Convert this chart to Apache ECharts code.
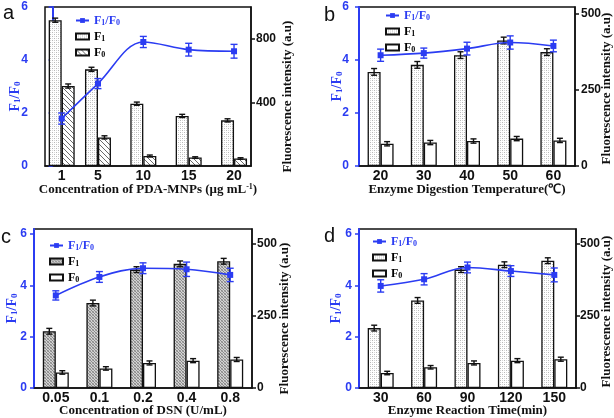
<!DOCTYPE html>
<html><head><meta charset="utf-8">
<script src="https://cdn.jsdelivr.net/npm/echarts@6/dist/echarts.min.js"></script>
<style>html,body{margin:0;padding:0;background:#fff}#c{width:614px;height:418px}</style>
</head><body><div id="c"></div>
<script>
// ---------- Panel a ----------
const xA = [1, 5, 10, 15, 20];
const ratioA = [1.79, 3.11, 4.68, 4.39, 4.33];
const ratioErrA = [0.21, 0.19, 0.21, 0.24, 0.26];
const f1A = [917, 608, 392, 315, 287];
const f1ErrA = [13, 13, 10, 10, 10];
const f0A = [503, 180, 63, 53, 47];
const f0ErrA = [13, 10, 6, 5, 5];
// ---------- Panel b ----------
const catB = ['20', '30', '40', '50', '60'];
const ratioB = [4.18, 4.26, 4.43, 4.66, 4.53];
const ratioErrB = [0.23, 0.19, 0.24, 0.25, 0.22];
const f1B = [309, 332, 364, 412, 374];
const f1ErrB = [11, 11, 11, 11, 11];
const f0B = [73, 77, 82, 90, 84];
const f0ErrB = [7, 7, 7, 7, 7];
// ---------- Panel c ----------
const catC = ['0.05', '0.1', '0.2', '0.4', '0.8'];
const ratioC = [3.61, 4.33, 4.67, 4.63, 4.41];
const ratioErrC = [0.18, 0.21, 0.21, 0.28, 0.26];
const f1C = [197, 295, 411, 431, 440];
const f1ErrC = [10, 10, 10, 10, 10];
const f0C = [54, 68, 87, 95, 99];
const f0ErrC = [6, 6, 7, 7, 7];
// ---------- Panel d ----------
const catD = ['30', '60', '90', '120', '150'];
const ratioD = [3.98, 4.24, 4.70, 4.56, 4.41];
const ratioErrD = [0.24, 0.22, 0.21, 0.21, 0.27];
const f1D = [208, 304, 411, 428, 442];
const f1ErrD = [10, 10, 10, 10, 10];
const f0D = [52, 72, 87, 95, 100];
const f0ErrD = [6, 6, 7, 7, 7];
// ---------- axis ticks ----------
const leftTicks = [0, 2, 4, 6];
const rightTicksA = [400, 800];
const rightTicksBCD = [0, 250, 500];

const BLUE = '#2b3cf2';
const SERIF = 'Liberation Serif';
const SANS = 'Liberation Sans';
const BW = 13;

function pattern(kind) {
  const c = document.createElement('canvas');
  const ctx = c.getContext('2d');
  if (kind === 'dots') {
    c.width = 4; c.height = 4;
    ctx.fillStyle = '#ffffff'; ctx.fillRect(0, 0, 4, 4);
    ctx.fillStyle = '#b8b8b8';
    ctx.fillRect(0, 0, 1, 1); ctx.fillRect(2, 2, 1, 1);
    ctx.fillStyle = '#d8d8d8';
    ctx.fillRect(2, 0, 1, 1); ctx.fillRect(0, 2, 1, 1);
  } else if (kind === 'dark') {
    c.width = 3; c.height = 3;
    ctx.fillStyle = '#d2d2d2'; ctx.fillRect(0, 0, 3, 3);
    ctx.fillStyle = '#8a8a8a';
    ctx.fillRect(0, 0, 1, 1); ctx.fillRect(1, 1, 1, 1); ctx.fillRect(2, 2, 1, 1);
    ctx.fillStyle = '#a8a8a8';
    ctx.fillRect(2, 0, 1, 1); ctx.fillRect(0, 2, 1, 1);
  } else if (kind === 'hatch') {
    c.width = 5; c.height = 5;
    ctx.fillStyle = '#ffffff'; ctx.fillRect(0, 0, 5, 5);
    ctx.strokeStyle = '#6a6a6a'; ctx.lineWidth = 1;
    ctx.beginPath();
    for (let k = -5; k <= 10; k += 5) { ctx.moveTo(k, 0); ctx.lineTo(k + 5, 5); }
    ctx.stroke();
  }
  return { image: c, repeat: 'repeat' };
}
const PDOTS = pattern('dots'), PDARK = pattern('dark'), PHATCH = pattern('hatch');

function errRender(offset, color, cap) {
  return function (params, api) {
    const x = api.value(0), v = api.value(1), e = api.value(2);
    const t = api.coord([x, v + e]), b = api.coord([x, v - e]);
    const cx = t[0] + offset;
    const st = { stroke: color, lineWidth: 1.4 };
    return { type: 'group', children: [
      { type: 'line', shape: { x1: cx, y1: t[1], x2: cx, y2: b[1] }, style: st },
      { type: 'line', shape: { x1: cx - cap / 2, y1: t[1], x2: cx + cap / 2, y2: t[1] }, style: st },
      { type: 'line', shape: { x1: cx - cap / 2, y1: b[1], x2: cx + cap / 2, y2: b[1] }, style: st }
    ] };
  };
}

const panels = [
  { key: 'a', x: xA, cats: null, ratio: ratioA, rErr: ratioErrA, f1: f1A, f1e: f1ErrA, f0: f0A, f0e: f0ErrA,
    grid: { left: 45, top: 7, width: 206, height: 159 }, lMax: 6, rMax: 1000, rTicks: rightTicksA,
    f1Fill: PDOTS, f0Fill: PHATCH, xName: 'Concentration of PDA-MNPs (μg mL{sup|-1})',
    lMargin: 17, rMargin: 5, lGap: 23, rGap: 30, xPad: 3, legend: [75, 15], letter: [3, 3],
    lShift: 20, rShift: 20 },
  { key: 'b', cats: catB, ratio: ratioB, rErr: ratioErrB, f1: f1B, f1e: f1ErrB, f0: f0B, f0e: f0ErrB,
    grid: { left: 359, top: 7, width: 216, height: 159 }, lMax: 6, rMax: 522, rTicks: rightTicksBCD,
    f1Fill: PDOTS, f0Fill: '#ffffff', xName: 'Enzyme Digestion Temperature(℃)',
    lMargin: 10, rMargin: 6, lGap: 15, rGap: 25, xPad: 3, legend: [385, 10], letter: [324, 5],
    lShift: 0, rShift: 4 },
  { key: 'c', cats: catC, ratio: ratioC, rErr: ratioErrC, f1: f1C, f1e: f1ErrC, f0: f0C, f0e: f0ErrC,
    grid: { left: 34, top: 229, width: 218, height: 159 }, lMax: 6.2, rMax: 552, rTicks: rightTicksBCD,
    f1Fill: PDARK, f0Fill: '#ffffff', xName: 'Concentration of DSN (U/mL)',
    lMargin: 7, rMargin: 5, lGap: 15, rGap: 26, xPad: 2, legend: [49, 240], letter: [1, 227],
    lShift: 0, rShift: 20 },
  { key: 'd', cats: catD, ratio: ratioD, rErr: ratioErrD, f1: f1D, f1e: f1ErrD, f0: f0D, f0e: f0ErrD,
    grid: { left: 359, top: 229, width: 217, height: 159 }, lMax: 6.2, rMax: 552, rTicks: rightTicksBCD,
    f1Fill: PDOTS, f0Fill: '#ffffff', xName: 'Enzyme Reaction Time(min)',
    lMargin: 7, rMargin: 4, lGap: 16, rGap: 24, xPad: 2, legend: [372, 236], letter: [324, 226],
    lShift: 0, rShift: 6 }
];

const option = { animation: false, backgroundColor: '#fff', grid: [], xAxis: [], yAxis: [], series: [], legend: [], graphic: [] };

const ratioRich = {
  B: { color: BLUE, fontFamily: SERIF, fontWeight: 'bold', fontSize: 14, verticalAlign: 'bottom', lineHeight: 14 },
  b: { color: BLUE, fontFamily: SERIF, fontWeight: 'bold', fontSize: 9, verticalAlign: 'bottom', lineHeight: 12 }
};
const legRich = {
  B: { color: BLUE, fontFamily: SERIF, fontWeight: 'bold', fontSize: 12, verticalAlign: 'bottom', lineHeight: 13 },
  b: { color: BLUE, fontFamily: SERIF, fontWeight: 'bold', fontSize: 8, verticalAlign: 'bottom', lineHeight: 11 },
  K: { color: '#000', fontFamily: SERIF, fontWeight: 'bold', fontSize: 12, verticalAlign: 'bottom', lineHeight: 13 },
  k: { color: '#000', fontFamily: SERIF, fontWeight: 'bold', fontSize: 8, verticalAlign: 'bottom', lineHeight: 11 }
};

panels.forEach((p, g) => {
  option.grid.push(Object.assign({ show: true, borderColor: '#111', borderWidth: 1.5, backgroundColor: 'transparent' }, p.grid));
  const isVal = !p.cats;
  const xAxis = {
    gridIndex: g, type: isVal ? 'value' : 'category',
    name: p.xName, nameLocation: 'middle', nameGap: 14, nameMoveOverlap: false,
    nameTextStyle: { fontFamily: SERIF, fontWeight: 'bold', fontSize: 13, color: '#111', padding: [p.xPad, 0, 0, 0],
      rich: { sup: { fontFamily: SERIF, fontWeight: 'bold', fontSize: 8, verticalAlign: 'top', color: '#111' } } },
    axisLine: { lineStyle: { color: '#111', width: 1.5 } },
    axisTick: { show: false },
    splitLine: { show: false },
    axisLabel: { fontFamily: SANS, fontWeight: 'bold', fontSize: 14, color: '#111', margin: 3 }
  };
  if (isVal) {
    xAxis.min = -0.84; xAxis.max = 21.87;
    xAxis.axisLabel.customValues = p.x;
  } else {
    xAxis.data = p.cats; xAxis.boundaryGap = true;
  }
  option.xAxis.push(xAxis);
  const leftCustom = p.lMax === 6 ? {} : { customValues: leftTicks };
  option.yAxis.push({
    gridIndex: g, type: 'value', position: 'left', min: 0, max: p.lMax, interval: p.lMax === 6 ? 2 : undefined,
    name: '{B|F}{b|1}{B|/F}{b|0}', nameLocation: 'middle', nameGap: p.lGap, nameMoveOverlap: false,
    nameTextStyle: { rich: ratioRich, padding: [0, p.lShift, 0, 0] },
    axisLine: { show: true, lineStyle: { color: BLUE, width: 2 } },
    axisTick: Object.assign({ show: true, length: 4, lineStyle: { color: BLUE, width: 1.5 } }, leftCustom),
    splitLine: { show: false },
    axisLabel: Object.assign({ fontFamily: SANS, fontWeight: 'bold', fontSize: 12, color: BLUE, margin: p.lMargin }, leftCustom)
  });
  option.yAxis.push({
    gridIndex: g, type: 'value', position: 'right', min: 0, max: p.rMax,
    name: 'Fluorescence intensity (a.u)', nameLocation: 'middle', nameGap: p.rGap, nameMoveOverlap: false,
    nameTextStyle: { fontFamily: SERIF, fontWeight: 'bold', fontSize: 13, color: '#111', padding: [0, p.rShift, 0, 0] },
    axisLine: { show: true, lineStyle: { color: '#111', width: 1.5 } },
    axisTick: { show: true, length: 4, lineStyle: { color: '#111', width: 1.5 }, customValues: p.rTicks },
    splitLine: { show: false },
    axisLabel: { fontFamily: SANS, fontWeight: 'bold', fontSize: 12, color: '#111', margin: p.rMargin, customValues: p.rTicks }
  });
  const xv = i => isVal ? p.x[i] : i;
  const nR = p.key + ':F1/F0', n1 = p.key + ':F1', n0 = p.key + ':F0';
  option.series.push({
    name: n1, type: 'bar', xAxisIndex: g, yAxisIndex: 2 * g + 1, barWidth: BW, barGap: '0%',
    data: p.f1.map((v, i) => [xv(i), v]),
    itemStyle: { color: p.f1Fill, borderColor: '#111', borderWidth: 1.3 }, z: 2
  });
  option.series.push({
    name: n0, type: 'bar', xAxisIndex: g, yAxisIndex: 2 * g + 1, barWidth: BW, barGap: '0%',
    data: p.f0.map((v, i) => [xv(i), v]),
    itemStyle: { color: p.f0Fill, borderColor: '#111', borderWidth: 1.3 }, z: 2
  });
  option.series.push({
    type: 'custom', xAxisIndex: g, yAxisIndex: 2 * g + 1, z: 3,
    renderItem: errRender(-BW / 2, '#111', 6),
    data: p.f1.map((v, i) => [xv(i), v, p.f1e[i]])
  });
  option.series.push({
    type: 'custom', xAxisIndex: g, yAxisIndex: 2 * g + 1, z: 3,
    renderItem: errRender(BW / 2, '#111', 6),
    data: p.f0.map((v, i) => [xv(i), v, p.f0e[i]])
  });
  option.series.push({
    name: nR, type: 'line', xAxisIndex: g, yAxisIndex: 2 * g, smooth: 0.35,
    symbol: 'rect', symbolSize: 6, showSymbol: true,
    lineStyle: { color: BLUE, width: 1.6 }, itemStyle: { color: BLUE },
    data: p.ratio.map((v, i) => [xv(i), v]), z: 5
  });
  option.series.push({
    type: 'custom', xAxisIndex: g, yAxisIndex: 2 * g, z: 5,
    renderItem: errRender(0, BLUE, 7),
    data: p.ratio.map((v, i) => [xv(i), v, p.rErr[i]])
  });
  option.legend.push({
    orient: 'vertical', left: p.legend[0], top: p.legend[1], padding: 0,
    itemWidth: 13, itemHeight: 6, itemGap: 4,
    selectedMode: false,
    data: [{ name: nR }, { name: n1, icon: 'rect' }, { name: n0, icon: 'rect' }],
    formatter: function (name) {
      const s = name.split(':')[1];
      if (s === 'F1/F0') return '{B|F}{b|1}{B|/F}{b|0}';
      return '{K|F}{k|' + s.slice(1) + '}';
    },
    textStyle: { rich: legRich }
  });
  option.graphic.push({
    type: 'text', left: p.letter[0], top: p.letter[1],
    style: { text: p.key, font: '20px "Liberation Sans"', fill: '#111' }
  });
});

const chart = echarts.init(document.getElementById('c'), null, { renderer: 'canvas' });
chart.setOption(option);
</script>
</body></html>
